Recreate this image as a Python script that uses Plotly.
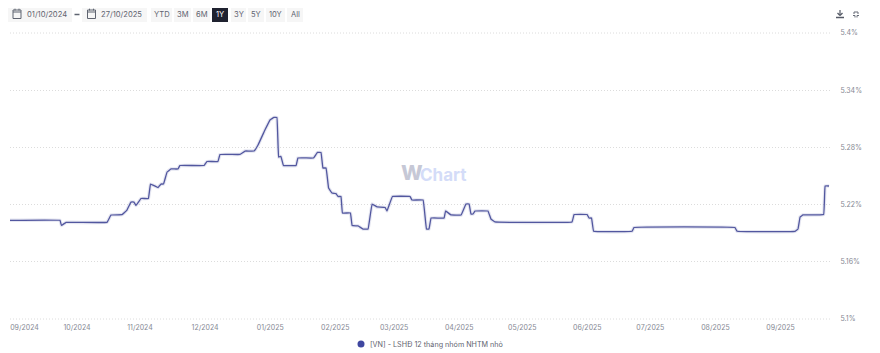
import pandas as pd
import plotly.graph_objects as go

SERIES_NAME = "[VN] - LSHĐ 12 tháng nhóm NHTM nhỏ"
START_DATE = "2024-10-01"
# days relative to START_DATE
day_offsets = [-31.9, -8.1, -7.4, -5.2, 14.3, 16.2, 21.4, 23.8, 25.7, 27.1, 28.1, 30.5, 34.0, 35.0,
               38.6, 40.0, 41.2, 42.9, 44.8, 48.1, 49.0, 60.5, 61.9, 67.1, 68.1, 77.6, 80.0, 84.3,
               86.2, 89.5, 91.9, 93.8, 95.2, 96.0, 97.1, 98.3, 104.3, 105.2, 112.6, 114.5, 116.2,
               117.1, 118.6, 119.8, 121.4, 123.3, 124.3, 125.7, 126.4, 130.2, 131.0, 133.8, 136.2,
               138.6, 140.5, 142.9, 146.7, 147.6, 150.2, 158.6, 159.5, 164.8, 166.4, 167.6, 168.6,
               174.8, 175.5, 178.1, 182.9, 185.2, 186.7, 187.6, 188.6, 189.5, 195.7, 197.1, 199.0,
               235.7, 236.7, 242.9, 243.8, 245.0, 246.0, 264.3, 265.2, 313.3, 314.3, 341.9, 343.3,
               344.3, 345.7, 355.5, 356.2, 358.1]
rates = [5.2035, 5.2035, 5.1981, 5.2014, 5.2014, 5.2091, 5.2094, 5.2143, 5.2227, 5.2227, 5.2191, 5.2264, 5.2264, 5.2416,
         5.2379, 5.2416, 5.2416, 5.2542, 5.2574, 5.2574, 5.2610, 5.2610, 5.2652, 5.2652, 5.2726, 5.2726, 5.2762, 5.2762,
         5.2825, 5.2983, 5.3088, 5.3114, 5.3114, 5.2699, 5.2705, 5.2610, 5.2610, 5.2689, 5.2689, 5.2747, 5.2747,
         5.2584, 5.2584, 5.2374, 5.2322, 5.2316, 5.2285, 5.2285, 5.2112, 5.2112, 5.1981, 5.1976, 5.1944,
         5.1944, 5.2206, 5.2175, 5.2170, 5.2133, 5.2285, 5.2285, 5.2248, 5.2248, 5.1944, 5.1944, 5.2059,
         5.2059, 5.2133, 5.2091, 5.2091, 5.2206, 5.2206, 5.2101, 5.2101, 5.2133, 5.2133, 5.2049, 5.2018,
         5.2018, 5.2096, 5.2096, 5.2059, 5.2059, 5.1920, 5.1920, 5.1960, 5.1960, 5.1920, 5.1920, 5.1944,
         5.2070, 5.2091, 5.2096, 5.2395, 5.2395]
x_range = ["2024-08-30 02:24", "2025-09-25 12:00"]
tick_dates = ["2024-09-06", "2024-10-01", "2024-10-31", "2024-12-01", "2025-01-01", "2025-02-01", "2025-03-01",
              "2025-04-01", "2025-05-01", "2025-06-01", "2025-07-01", "2025-08-01", "2025-09-01"]
tick_labels = ["09/2024", "10/2024", "11/2024", "12/2024", "01/2025", "02/2025", "03/2025",
               "04/2025", "05/2025", "06/2025", "07/2025", "08/2025", "09/2025"]
y_ticks = [5.1, 5.16, 5.22, 5.28, 5.34, 5.4]
y_labels = ["5.1%", "5.16%", "5.22%", "5.28%", "5.34%", "5.4%"]
date_chips = ["01/10/2024", "27/10/2025"]
range_buttons = ["YTD", "3M", "6M", "1Y", "3Y", "5Y", "10Y", "All"]

FONT = "Inter, Roboto, sans-serif"
PAGE_MARGIN = 8  # the page body offsets the figure
L, R, T, B = 10, 832, 33, 319
AXIS_TEXT = "#858893"
GRID = "#dcdcdc"
GRID_DASH = "1px,2px"


def px(x):
    return (x - L) / (R - L)


def py(y):
    return (B - y) / (B - T)


dates = pd.Timestamp(START_DATE) + pd.to_timedelta(day_offsets, unit="D")

fig = go.Figure()
fig.add_trace(go.Scatter(x=dates, y=rates, mode="lines", showlegend=False, hoverinfo="skip",
                         line=dict(color="rgba(74,79,158,0.14)", width=3.5, shape="spline", smoothing=0.15)))
fig.add_trace(go.Scatter(x=dates, y=rates, mode="lines", showlegend=False, name=SERIES_NAME,
                         line=dict(color="#52579f", width=1.3, shape="spline", smoothing=0.15)))

shapes, annos = [], []


def rect(x0, y0, x1, y1, fill="rgba(0,0,0,0)", line=None, width=1):
    shapes.append(dict(type="rect", xref="paper", yref="paper", x0=px(x0), x1=px(x1), y0=py(y0), y1=py(y1),
                       fillcolor=fill, line=dict(color=line or fill, width=width if line else 0), layer="above"))


def seg(x0, y0, x1, y1, color="#5a5f6b", width=1):
    shapes.append(dict(type="line", xref="paper", yref="paper", x0=px(x0), x1=px(x1), y0=py(y0), y1=py(y1),
                       line=dict(color=color, width=width), layer="above"))


def text(x, y, s, color="#5f6470", size=7.6, anchor="center", weight=400, family=FONT):
    annos.append(dict(xref="paper", yref="paper", x=px(x), y=py(y), text=s, showarrow=False, xanchor=anchor,
                      yanchor="middle", xshift=-1 if anchor == "left" else 0,
                      font=dict(family=family, size=size, color=color, weight=weight)))


# grid lines at both ends of the value axis
for edge in (0, 1):
    shapes.append(dict(type="line", xref="paper", yref="paper", x0=0, x1=1, y0=edge, y1=edge,
                       line=dict(color=GRID, width=1, dash=GRID_DASH), layer="below"))

# date chips
for (x0, x1, tx), s in zip([(7.5, 72, 25.5), (82, 147, 100)], date_chips):
    rect(x0, 7, x1, 22, "#f6f6f6")
    rect(x0 + 5.5, 10, x0 + 13.5, 18.5, line="#5f6470")
    seg(x0 + 5.5, 12, x0 + 13.5, 12, "#5f6470")
    seg(x0 + 7.5, 8.7, x0 + 7.5, 10.5, "#5f6470")
    seg(x0 + 11.5, 8.7, x0 + 11.5, 10.5, "#5f6470")
    text(tx, 14.5, s, anchor="left")
seg(74.5, 14.5, 79.5, 14.5, "#5f6470", 1.5)

# range buttons
button_edges = [(151, 172), (174, 191), (193, 210), (212, 228), (231, 246), (248, 264), (266, 285), (287, 303)]
for (x0, x1), s in zip(button_edges, range_buttons):
    active = s == "1Y"
    rect(x0, 7, x1, 22, "#1f2230" if active else "#f6f6f6")
    text((x0 + x1) / 2, 14.5, s, color="#ffffff" if active else "#5f6470")

# download icon
seg(840, 10, 840, 15, "#555a66", 1.2)
seg(837.5, 13, 840, 15.5, "#555a66", 1.2)
seg(842.5, 13, 840, 15.5, "#555a66", 1.2)
seg(836, 17.5, 844, 17.5, "#555a66", 1.5)
# fullscreen icon
for cx, cy, dx, dy in [(853, 11, 1, 1), (859, 11, -1, 1), (853, 17.5, 1, -1), (859, 17.5, -1, -1)]:
    seg(cx + 2 * dx, cy + 2 * dy, cx + 2 * dx, cy, "#666b77")
    seg(cx, cy + 2 * dy, cx + 2 * dx, cy + 2 * dy, "#666b77")

# watermark
text(400, 172.5, "W", color="#c6c8d6", size=20.5, anchor="left", weight=800)
text(419, 175, "Chart", color="#d4dcf8", size=17, anchor="left", weight=700)

# legend, drawn the way the page draws it
shapes.append(dict(type="circle", xref="paper", yref="paper", x0=px(357.5), x1=px(364.5), y0=py(347.5), y1=py(340.5),
                   fillcolor="#3f47a0", line=dict(width=0), layer="above"))
text(369, 344, SERIES_NAME, anchor="left", size=7.2)

fig.update_layout(
    width=880 - PAGE_MARGIN, height=353 - PAGE_MARGIN, autosize=False,
    margin=dict(l=L - PAGE_MARGIN, r=880 - R, t=T - PAGE_MARGIN, b=353 - B, autoexpand=False),
    paper_bgcolor="#ffffff", plot_bgcolor="#ffffff",
    font=dict(family=FONT, size=7, color=AXIS_TEXT),
    shapes=shapes, annotations=annos, showlegend=False,
    xaxis=dict(type="date", range=x_range, tickmode="array", tickvals=tick_dates, ticktext=tick_labels,
               showgrid=False, zeroline=False, showline=False, ticks="outside", ticklen=2,
               tickcolor="rgba(0,0,0,0)", tickfont=dict(size=7, color=AXIS_TEXT, family=FONT)),
    yaxis=dict(range=[5.1, 5.4], side="right", tickmode="array", tickvals=y_ticks, ticktext=y_labels,
               showgrid=True, gridcolor=GRID, griddash=GRID_DASH, gridwidth=1, zeroline=False, showline=False,
               ticks="outside", ticklen=6, tickcolor="rgba(0,0,0,0)",
               tickfont=dict(size=7, color=AXIS_TEXT, family=FONT)),
)
fig.write_html("out.html")
